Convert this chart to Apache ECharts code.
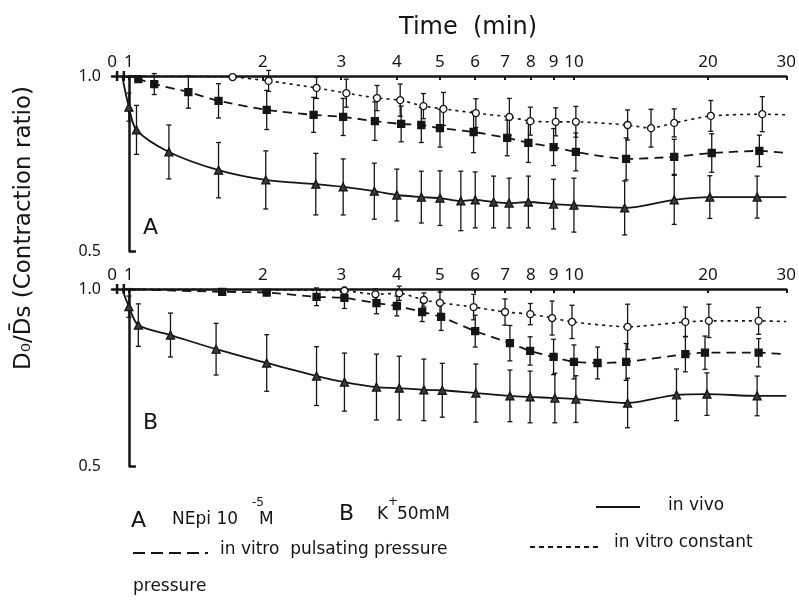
<!DOCTYPE html>
<html>
<head>
<meta charset="utf-8">
<script src="https://cdn.jsdelivr.net/npm/echarts@6/dist/echarts.min.js"></script>
<style>
  html, body { margin: 0; padding: 0; background: #fff; }
  #chart { width: 799px; height: 602px; }
</style>
</head>
<body>
<div id="chart"></div>
<script>
// time ticks on the (log) time axis
var tickTimes = [1, 2, 3, 4, 5, 6, 7, 8, 9, 10, 20, 30];
var labelTimes = [0, 1, 2, 3, 4, 5, 6, 7, 8, 9, 10, 20, 30];

// A: NEpi 10^-5 M
var tVivoA = [0.6, 1.0, 1.04, 1.23, 1.59, 2.03, 2.63, 3.03, 3.56, 4.0, 4.54, 5.0, 5.57, 6.0, 6.6, 7.15, 7.9, 9.0, 10, 13, 16.8, 20.2, 25.8, 30];
var vVivoA = [1.0, 0.911, 0.846, 0.783, 0.731, 0.703, 0.691, 0.683, 0.671, 0.66, 0.654, 0.651, 0.643, 0.646, 0.64, 0.637, 0.64, 0.634, 0.631, 0.623, 0.646, 0.654, 0.654, 0.654];
var sdVivoA = [null, 0.04, 0.07, 0.077, 0.079, 0.083, 0.088, 0.08, 0.08, 0.074, 0.074, 0.078, 0.085, 0.08, 0.074, 0.071, 0.074, 0.071, 0.077, 0.077, 0.07, 0.061, 0.06, null];

var tPulsA = [0.6, 1.05, 1.14, 1.36, 1.59, 2.04, 2.6, 3.03, 3.57, 4.09, 4.54, 5.0, 5.95, 7.08, 7.9, 9.0, 10.1, 13.1, 16.8, 20.4, 26.1, 30];
var vPulsA = [1.0, 0.991, 0.977, 0.954, 0.929, 0.903, 0.889, 0.883, 0.871, 0.863, 0.86, 0.851, 0.84, 0.823, 0.809, 0.797, 0.783, 0.763, 0.769, 0.78, 0.786, 0.78];
var sdPulsA = [null, 0, 0.03, 0.046, 0.049, 0.056, 0.05, 0.053, 0.055, 0.051, 0.05, 0.054, 0.059, 0.051, 0.056, 0.053, 0.054, 0.06, 0.05, 0.055, 0.045, null];

var tConstA = [0.6, 1.71, 2.06, 2.64, 3.08, 3.61, 4.07, 4.59, 5.09, 6.02, 7.16, 7.98, 9.1, 10.1, 13.2, 14.9, 16.8, 20.3, 26.5, 30];
var vConstA = [1.0, 0.997, 0.986, 0.966, 0.951, 0.937, 0.931, 0.914, 0.906, 0.894, 0.883, 0.871, 0.869, 0.869, 0.86, 0.851, 0.866, 0.886, 0.891, 0.889];
var sdConstA = [null, 0, 0.03, 0.03, 0.04, 0.036, 0.046, 0.036, 0.047, 0.041, 0.053, 0.04, 0.04, 0.044, 0.043, 0.054, 0.04, 0.044, 0.05, null];

// B: K+ 50 mM
var tVivoB = [0.6, 1.0, 1.05, 1.24, 1.57, 2.04, 2.64, 3.05, 3.6, 4.05, 4.6, 5.06, 6.02, 7.18, 7.97, 9.06, 10.1, 13.2, 17.0, 19.9, 25.8, 30];
var vVivoB = [1.0, 0.95, 0.898, 0.87, 0.83, 0.791, 0.754, 0.737, 0.723, 0.72, 0.715, 0.714, 0.706, 0.698, 0.695, 0.692, 0.689, 0.678, 0.701, 0.703, 0.698, 0.698];
var sdVivoB = [null, 0.03, 0.06, 0.062, 0.073, 0.08, 0.083, 0.082, 0.093, 0.09, 0.087, 0.076, 0.082, 0.073, 0.073, 0.07, 0.066, 0.07, 0.073, 0.06, 0.056, null];

var tPulsB = [0.6, 1.62, 2.04, 2.64, 3.05, 3.6, 4.0, 4.56, 5.03, 6.0, 7.18, 7.97, 9.0, 10.0, 11.3, 13.1, 17.8, 19.7, 26, 30];
var vPulsB = [1.0, 0.992, 0.99, 0.978, 0.975, 0.96, 0.952, 0.935, 0.921, 0.881, 0.847, 0.825, 0.808, 0.794, 0.791, 0.794, 0.816, 0.82, 0.82, 0.816];
var sdPulsB = [null, 0, 0, 0.025, 0.03, 0.03, 0.028, 0.027, 0.038, 0.045, 0.05, 0.04, 0.05, 0.048, 0.045, 0.052, 0.05, 0.047, 0.04, null];

var tConstB = [0.6, 3.05, 3.58, 4.05, 4.6, 5.0, 5.95, 7.0, 7.98, 8.93, 9.9, 13.2, 17.8, 20.1, 26, 30];
var vConstB = [1.0, 0.995, 0.985, 0.988, 0.969, 0.961, 0.949, 0.935, 0.929, 0.918, 0.907, 0.893, 0.907, 0.91, 0.91, 0.908];
var sdConstB = [null, 0, 0.015, 0.02, 0.02, 0.03, 0.036, 0.037, 0.03, 0.048, 0.047, 0.064, 0.042, 0.047, 0.038, null];

var INK = '#151515';
var FONT = '"DejaVu Sans", sans-serif';
var NUMFONT = '"Noto Sans", "DejaVu Sans", sans-serif';
var ZERO_GAP = 0.038; // width of the 0..1 min stretch left of the axis break

// log10 time, with a short linear stretch before 1 min
function tx(t) { return t >= 1 ? Math.log10(t) : (t - 1) * ZERO_GAP; }

var chart = echarts.init(document.getElementById('chart'), null, { renderer: 'canvas' });

function makeXAxis(gi) {
  return {
    gridIndex: gi, type: 'value', position: 'top',
    min: tx(0), max: tx(30),
    axisLine: { lineStyle: { color: INK, width: 2.5 } },
    axisTick: { show: true, inside: true, length: 4, customValues: tickTimes.map(tx), lineStyle: { color: INK, width: 2 } },
    axisLabel: {
      customValues: labelTimes.map(tx), color: INK, fontSize: 17, fontFamily: NUMFONT, margin: 5,
      formatter: function (v) { return v < -0.001 ? '0' : String(Math.round(Math.pow(10, v))); }
    },
    splitLine: { show: false }
  };
}
function makeYAxis(gi) {
  return {
    gridIndex: gi, type: 'value', min: 0.5, max: 1.0, interval: 0.5,
    axisLine: { show: true, lineStyle: { color: INK, width: 2.5 } },
    axisTick: { show: true, inside: true, length: 7, lineStyle: { color: INK, width: 2.5 } },
    axisLabel: { color: INK, fontSize: 16, fontFamily: NUMFONT, margin: 11, formatter: function (v) { return v.toFixed(1); } },
    splitLine: { show: false }
  };
}

function renderErr(params, api) {
  var x = api.value(0), lo = api.value(1), hi = api.value(2);
  var p1 = api.coord([x, hi]), p2 = api.coord([x, lo]);
  var w = 2.5, st = { stroke: INK, lineWidth: 1.3 };
  return {
    type: 'group', children: [
      { type: 'line', shape: { x1: p1[0], y1: p1[1], x2: p2[0], y2: p2[1] }, style: st },
      { type: 'line', shape: { x1: p1[0] - w, y1: p1[1], x2: p1[0] + w, y2: p1[1] }, style: st },
      { type: 'line', shape: { x1: p2[0] - w, y1: p2[1], x2: p2[0] + w, y2: p2[1] }, style: st }
    ]
  };
}

function addSeries(list, gi, times, vals, sds, look) {
  list.push({
    type: 'line', xAxisIndex: gi, yAxisIndex: gi, smooth: look.smooth, z: 3,
    symbol: look.symbol, symbolSize: look.size,
    itemStyle: { color: look.fill, borderColor: INK, borderWidth: 1.3 },
    lineStyle: { color: INK, width: look.width, type: look.dash },
    data: times.map(function (t, i) {
      return { value: [tx(t), vals[i]], symbolSize: sds[i] === null ? 0 : look.size };
    }),
    silent: true, animation: false
  });
  var err = [];
  times.forEach(function (t, i) {
    if (sds[i]) err.push([tx(t), vals[i] - sds[i], vals[i] + sds[i]]);
  });
  list.push({
    type: 'custom', xAxisIndex: gi, yAxisIndex: gi, renderItem: renderErr, z: 2,
    encode: { x: 0, y: [1, 2] }, data: err, silent: true, animation: false
  });
}

var vivoLook = { symbol: 'triangle', size: 8, fill: '#3a3a3a', width: 1.8, dash: 'solid', smooth: 0.3 };
var pulsLook = { symbol: 'rect', size: 7, fill: INK, width: 1.8, dash: [9, 6], smooth: 0.2 };
var constLook = { symbol: 'circle', size: 7, fill: '#fff', width: 1.6, dash: [3, 4], smooth: 0.2 };

var series = [];
addSeries(series, 0, tVivoA, vVivoA, sdVivoA, vivoLook);
addSeries(series, 0, tPulsA, vPulsA, sdPulsA, pulsLook);
addSeries(series, 0, tConstA, vConstA, sdConstA, constLook);
addSeries(series, 1, tVivoB, vVivoB, sdVivoB, vivoLook);
addSeries(series, 1, tPulsB, vPulsB, sdPulsB, pulsLook);
addSeries(series, 1, tConstB, vConstB, sdConstB, constLook);

function txt(x, y, s, size, align, rot) {
  return { type: 'text', x: x, y: y, rotation: rot || 0, silent: true,
    style: { text: s, fontSize: size, fontFamily: FONT, fill: INK, align: align || 'left', verticalAlign: 'middle' } };
}
function seg(x1, y1, x2, y2, dash, w) {
  return { type: 'line', silent: true, shape: { x1: x1, y1: y1, x2: x2, y2: y2 },
    style: { stroke: INK, lineWidth: w || 1.8, lineDash: dash || null } };
}

var graphics = [
  txt(468, 28, 'Time  (min)', 24, 'center'),
  txt(24, 228, 'D\u2080/D\u0304s (Contraction ratio)', 23, 'center', Math.PI / 2),
  txt(143, 228, 'A', 22),
  txt(143, 423, 'B', 22),
  // legend
  txt(131, 521, 'A', 22),
  txt(172, 520, 'NEpi 10', 17),
  txt(252, 503, '-5', 12),
  txt(259, 520, 'M', 17),
  txt(339, 514, 'B', 22),
  txt(377, 515, 'K', 17),
  txt(388, 502, '+', 12),
  txt(397, 515, '50mM', 17),
  seg(596, 507, 640, 507),
  txt(668, 506, 'in vivo', 17),
  seg(133, 553, 208, 553, [12, 6]),
  txt(220, 550, 'in vitro  pulsating pressure', 17),
  seg(530, 547, 599, 547, [5, 4]),
  txt(614, 543, 'in vitro constant', 17),
  txt(133, 587, 'pressure', 17)
];

chart.setOption({
  backgroundColor: '#fff',
  animation: false,
  grid: [
    { left: 112, right: 11, top: 76, height: 175 },
    { left: 112, right: 11, top: 289, height: 177 }
  ],
  xAxis: [makeXAxis(0), makeXAxis(1)],
  yAxis: [makeYAxis(0), makeYAxis(1)],
  series: series,
  graphic: graphics
});

// axis-break marks between 0 and 1 min on each time axis
var breaks = [];
[0, 1].forEach(function (gi) {
  [0.3, 0.7].forEach(function (t) {
    var p = chart.convertToPixel({ gridIndex: gi }, [tx(t), 1.0]);
    breaks.push(seg(p[0], p[1] - 5, p[0], p[1] + 5, null, 2.5));
  });
});
chart.setOption({ graphic: graphics.concat(breaks) });
</script>
</body>
</html>
